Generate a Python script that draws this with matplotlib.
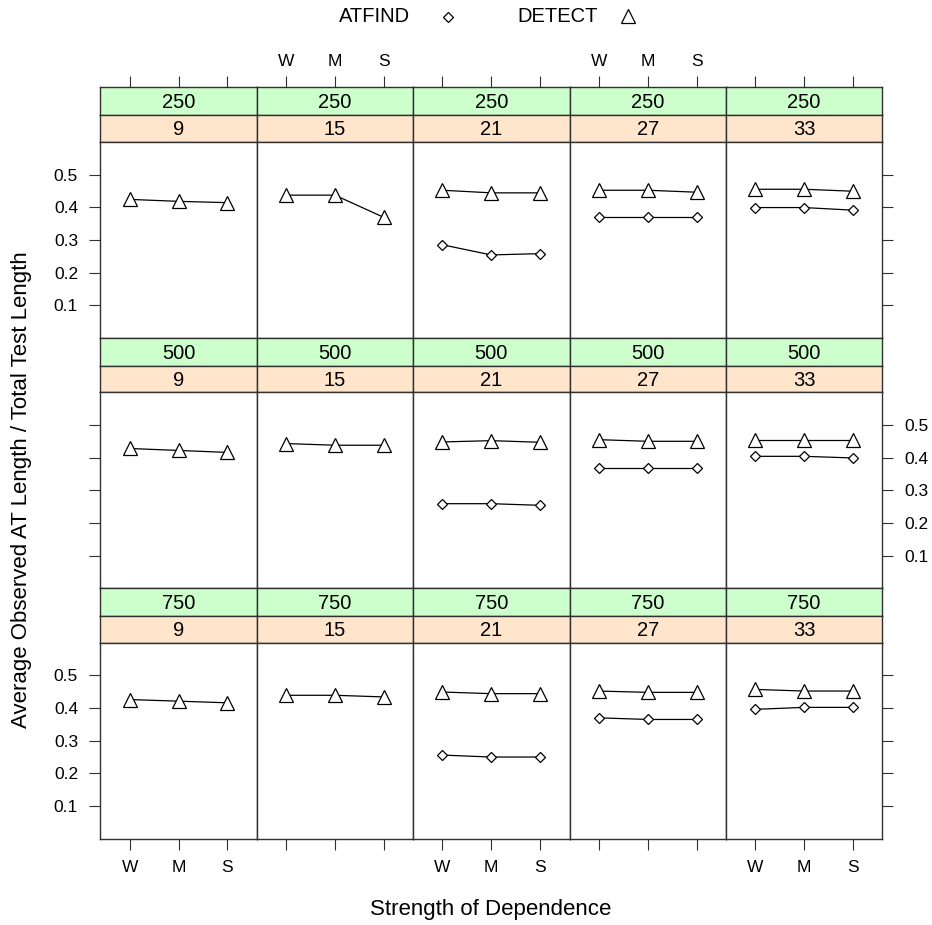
import numpy as np
import matplotlib.pyplot as plt
from matplotlib.lines import Line2D

plt.rcParams['font.family'] = ['Liberation Sans', 'DejaVu Sans']

# data
strength = ['W', 'M', 'S']
test_length = [9, 15, 21, 27, 33]
sample_size = [250, 500, 750]

# DETECT: rows = sample size, columns = test length, values for W/M/S
detect_250 = [[0.424, 0.418, 0.414], [0.437, 0.437, 0.369], [0.452, 0.444, 0.444],
              [0.452, 0.452, 0.446], [0.455, 0.455, 0.449]]
detect_500 = [[0.428, 0.422, 0.416], [0.443, 0.438, 0.438], [0.448, 0.452, 0.447],
              [0.455, 0.450, 0.450], [0.455, 0.455, 0.455]]
detect_750 = [[0.426, 0.421, 0.416], [0.439, 0.439, 0.434], [0.449, 0.444, 0.444],
              [0.452, 0.448, 0.448], [0.457, 0.452, 0.452]]

nan3 = [np.nan, np.nan, np.nan]
atfind_250 = [nan3, nan3, [0.285, 0.254, 0.258], [0.369, 0.369, 0.369], [0.399, 0.399, 0.391]]
atfind_500 = [nan3, nan3, [0.259, 0.259, 0.254], [0.369, 0.369, 0.369], [0.404, 0.404, 0.399]]
atfind_750 = [nan3, nan3, [0.256, 0.250, 0.250], [0.370, 0.365, 0.365], [0.396, 0.402, 0.402]]

detect = [detect_250, detect_500, detect_750]
atfind = [atfind_250, atfind_500, atfind_750]

yticks = [0.1, 0.2, 0.3, 0.4, 0.5]

W, H = 932, 925
fig = plt.figure(figsize=(W / 100, H / 100), dpi=100)

def box(x, y, w, h):
    # pixel box (top-left origin) -> figure fraction
    return [x / W, 1 - (y + h) / H, w / W, h / H]

left0 = 100.3
col_w = 156.4
top0 = 87.5
block = 250.4
g_h, o_h, p_h = 27.6, 26.8, 196.0
green = '#CCFFCC'
orange = '#FFE5CC'
edge = '#303030'
tick_len = 8
tick_fs = 12.5

x = np.arange(1, 4)

for r in range(3):
    y_top = top0 + r * block
    for c in range(5):
        xl = left0 + c * col_w
        # strips
        for k, (yy, hh, col, lab) in enumerate([(y_top, g_h, green, sample_size[r]),
                                                  (y_top + g_h, o_h, orange, test_length[c])]):
            sa = fig.add_axes(box(xl, yy, col_w, hh))
            sa.set_facecolor(col)
            sa.set_xlim(0.4, 3.6)
            sa.set_ylim(0, 1)
            sa.set_yticks([])
            for s in sa.spines.values():
                s.set_color(edge)
                s.set_linewidth(1.0)
            sa.text(2, 0.45, str(lab), ha='center', va='center', fontsize=14.5)
            if r == 0 and k == 0:
                sa.xaxis.set_ticks_position('top')
                sa.set_xticks(x)
                sa.tick_params(axis='x', direction='out', length=tick_len, width=0.8,
                               pad=5, labelsize=tick_fs, color=edge)
                if c in (1, 3):
                    sa.set_xticklabels(strength)
                else:
                    sa.set_xticklabels([])
            else:
                sa.set_xticks([])

        # panel
        ax = fig.add_axes(box(xl, y_top + g_h + o_h, col_w, p_h))
        ax.set_xlim(0.4, 3.6)
        ax.set_ylim(0, 0.6)
        for s in ax.spines.values():
            s.set_color(edge)
            s.set_linewidth(1.0)
        ax.plot(x, atfind[r][c], color='black', lw=0.9, marker='D', ms=5,
                mfc='white', mec='black', mew=0.9)
        ax.plot(x, detect[r][c], color='black', lw=0.9, marker='^', ms=10,
                mfc='white', mec='black', mew=0.9)

        # x ticks only at the bottom row
        if r == 2:
            ax.set_xticks(x)
            ax.tick_params(axis='x', direction='out', length=tick_len, width=0.8,
                           pad=7, labelsize=tick_fs, color=edge)
            if c in (0, 2, 4):
                ax.set_xticklabels(strength)
            else:
                ax.set_xticklabels([])
        else:
            ax.set_xticks([])

        # y ticks on outer columns, alternating sides
        if c == 0 or c == 4:
            ax.set_yticks(yticks)
            side_left = (c == 0)
            ax.tick_params(axis='y', direction='out', length=tick_len, width=0.8,
                           pad=8, labelsize=tick_fs, color=edge,
                           left=side_left, right=not side_left,
                           labelleft=side_left and r != 1,
                           labelright=(not side_left) and r == 1)
            ax.set_yticklabels([f'{v:.1f}' for v in yticks])
        else:
            ax.set_yticks([])

# legend at top
fig.text(410 / W, 1 - 17 / H, 'ATFIND', ha='right', va='center', fontsize=14.5)
fig.text(517 / W, 1 - 17 / H, 'DETECT', ha='left', va='center', fontsize=14.5)
fig.add_artist(Line2D([448 / W], [1 - 17 / H], marker='D', ms=5, mfc='white',
                      mec='black', mew=0.9, ls='none'))
fig.add_artist(Line2D([628 / W], [1 - 16 / H], marker='^', ms=10, mfc='white',
                      mec='black', mew=0.9, ls='none'))

fig.text(491 / W, 1 - 910 / H, 'Strength of Dependence', ha='center', va='center',
         fontsize=16)
fig.text(22 / W, 1 - 490 / H, 'Average Observed AT Length / Total Test Length',
         ha='center', va='center', rotation=90, fontsize=16)

fig.savefig('out.png', dpi=100, facecolor='white')
